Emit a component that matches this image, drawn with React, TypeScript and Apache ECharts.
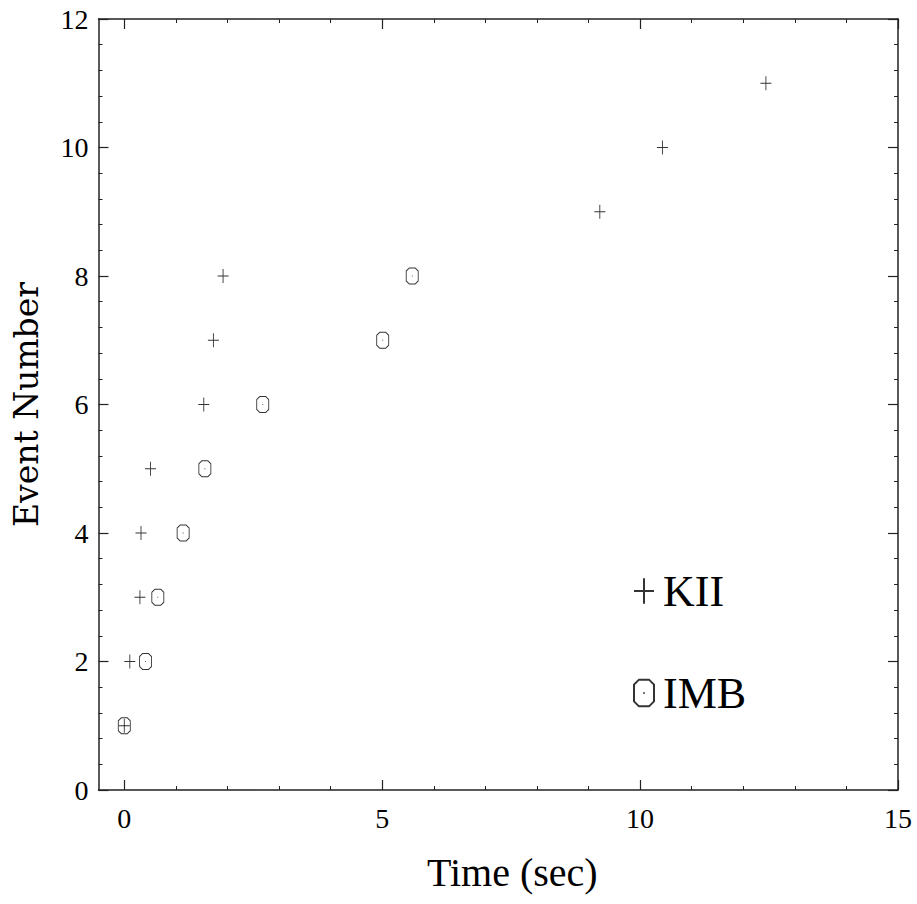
import React, { useEffect, useRef } from "react";
import * as echarts from "echarts";

// Supernova 1987A neutrino events
const kiiTime = [0, 0.107, 0.303, 0.324, 0.507, 1.541, 1.728, 1.915, 9.219, 10.433, 12.439];
const kiiEvent = [1, 2, 3, 4, 5, 6, 7, 8, 9, 10, 11];
const imbTime = [0, 0.412, 0.65, 1.141, 1.562, 2.684, 5.01, 5.582];
const imbEvent = [1, 2, 3, 4, 5, 6, 7, 8];

const xMajorTicks = [0, 5, 10, 15];
const xMinorTicks = [1, 2, 3, 4, 6, 7, 8, 9, 11, 12, 13, 14];
const seriesNames = ["KII", "IMB"];

const PLUS = "path://M0,7 L11,7 M5.5,0 L5.5,14";
const OCT = "path://M3,0 L9,0 L12,3 L12,13 L9,16 L3,16 L0,13 L0,3 Z M5.6,8 L6.4,8";

const FONT = "Liberation Serif";

export default function App() {
  const ref = useRef<HTMLDivElement>(null);
  useEffect(() => {
    if (!ref.current) return;
    const chart = echarts.init(ref.current, undefined, { renderer: "svg" });
    const lineStyle = { color: "#222", width: 1.5 };
    const baseX = {
      type: "value" as const,
      gridIndex: 0,
      min: -0.5,
      max: 15,
      splitLine: { show: false },
    };
    const majorX = (position: "top" | "bottom", labels: boolean) => ({
      ...baseX,
      position,
      axisLine: { show: true, onZero: false, lineStyle },
      axisTick: { show: true, inside: true, length: 10, customValues: xMajorTicks, lineStyle: { color: "#222", width: 1.2 } },
      axisLabel: labels
        ? { show: true, customValues: xMajorTicks, fontFamily: FONT, fontSize: 28, color: "#000", margin: 14 }
        : { show: false },
    });
    const minorX = (position: "top" | "bottom") => ({
      ...baseX,
      position,
      axisLine: { show: false, onZero: false },
      axisTick: { show: true, inside: true, length: 4, customValues: xMinorTicks, lineStyle: { color: "#222", width: 1 } },
      axisLabel: { show: false },
    });
    const yAx = (position: "left" | "right", labels: boolean) => ({
      type: "value" as const,
      position,
      min: 0,
      max: 12,
      interval: 2,
      splitLine: { show: false },
      axisLine: { show: true, onZero: false, lineStyle },
      axisTick: { show: true, inside: true, length: 10, lineStyle: { color: "#222", width: 1.2 } },
      minorTick: { show: true, splitNumber: 5, length: 4, lineStyle: { color: "#222", width: 1 } },
      axisLabel: labels
        ? { show: true, fontFamily: FONT, fontSize: 28, color: "#000", margin: 10 }
        : { show: false },
    });

    const xAxes: any[] = [majorX("bottom", true), minorX("bottom"), majorX("top", false), minorX("top")];
    xAxes[0].name = "Time (sec)";
    xAxes[0].nameLocation = "middle";
    xAxes[0].nameGap = 62;
    xAxes[0].nameTextStyle = { fontFamily: FONT, fontSize: 40, color: "#000", padding: [0, 0, 0, 28] };
    const yAxes: any[] = [yAx("left", true), yAx("right", false)];
    yAxes[0].name = "Event Number";
    yAxes[0].nameLocation = "middle";
    yAxes[0].nameGap = 56;
    yAxes[0].nameTextStyle = { fontFamily: "DejaVu Serif", fontSize: 33, color: "#000" };

    chart.setOption({
      animation: false,
      backgroundColor: "#fff",
      grid: { left: 98.5, right: 19, top: 19, bottom: 114, containLabel: false },
      xAxis: xAxes,
      yAxis: yAxes,
      legend: {
        data: seriesNames,
        orient: "vertical",
        left: 628,
        top: 561,
        itemWidth: 20,
        itemHeight: 29,
        itemGap: 52,
        textStyle: { fontFamily: FONT, fontSize: 44, color: "#000", lineHeight: 50, padding: [0, 0, 0, 4] },
        selectedMode: false,
      },
      series: [
        {
          name: seriesNames[1],
          type: "scatter",
          xAxisIndex: 0,
          yAxisIndex: 0,
          symbol: OCT,
          symbolSize: [12, 16],
          itemStyle: { color: "transparent", borderColor: "#000", borderWidth: 1 },
          data: imbTime.map((t, i) => [t, imbEvent[i]]),
        },
        {
          name: seriesNames[0],
          type: "scatter",
          xAxisIndex: 0,
          yAxisIndex: 0,
          symbol: PLUS,
          symbolSize: [11, 14],
          itemStyle: { color: "transparent", borderColor: "#000", borderWidth: 1 },
          data: kiiTime.map((t, i) => [t, kiiEvent[i]]),
        },
      ],
    });
    return () => chart.dispose();
  }, []);
  return (
    <div
      ref={ref}
      style={{ position: "absolute", left: 0, top: 0, width: 917, height: 904, background: "#fff" }}
    />
  );
}
